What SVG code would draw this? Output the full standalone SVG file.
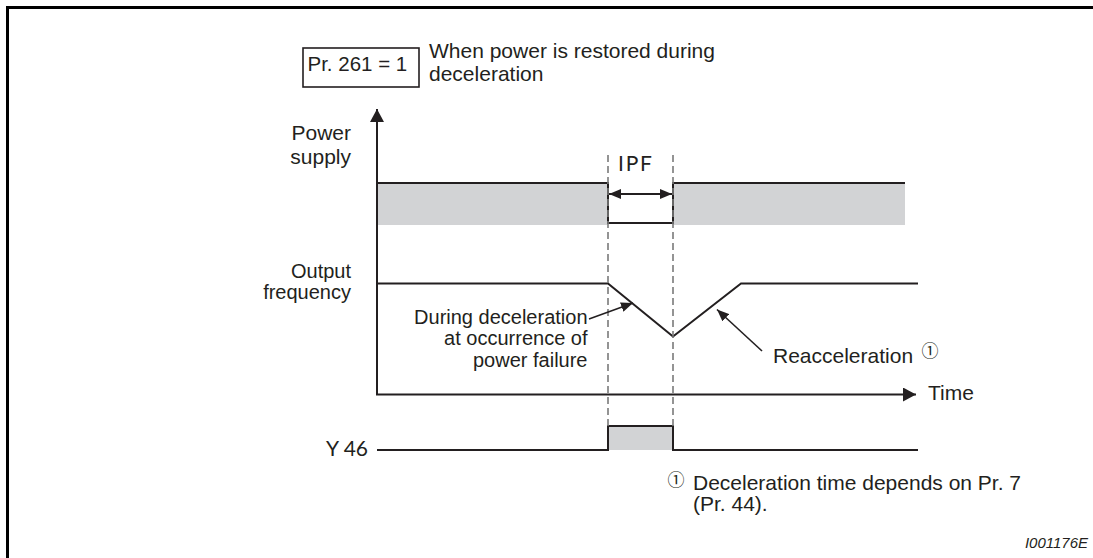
<svg xmlns="http://www.w3.org/2000/svg" width="1093" height="558" viewBox="0 0 1093 558">
<style>
.t{font-family:"Liberation Sans",Arial,sans-serif;font-size:21px;fill:#231f20}
.s{font-size:20px}
.e{text-anchor:end}
.g{font-family:Lato,"DejaVu Sans",sans-serif;font-weight:400;font-size:21px;fill:#231f20}
.c{font-family:"Noto Sans CJK JP","DejaVu Sans",sans-serif;font-size:17px;fill:#231f20}
.ln{fill:none;stroke:#231f20;stroke-width:2}
.dash{fill:none;stroke:#7a7a7a;stroke-width:1.6;stroke-dasharray:7 4}
.shade{fill:#d2d3d5;stroke:none}
</style>
<defs>
<marker id="ah" viewBox="0 0 12 10" refX="12" refY="5" markerWidth="12" markerHeight="10" markerUnits="userSpaceOnUse" orient="auto-start-reverse">
<path d="M0,0 L12,5 L0,10 Z" fill="#231f20"/>
</marker>
<marker id="big" viewBox="0 0 13 14" refX="13" refY="7" markerWidth="13" markerHeight="14" markerUnits="userSpaceOnUse" orient="auto">
<path d="M0,0 L13,7 L0,14 Z" fill="#231f20"/>
</marker>
</defs>
<rect width="1093" height="558" fill="#fff"/>
<g id="frame">
<path d="M7.5,558 V7.5 H1093" fill="none" stroke="#000" stroke-width="3"/>
</g>
<g id="title">
<rect x="303" y="48" width="116" height="39" fill="none" stroke="#231f20" stroke-width="1.6"/>
<text class="t" x="307.5" y="71" style="font-size:20.5px">Pr. 261 = 1</text>
<text class="t" x="429" y="58"><tspan x="429" y="58">When power is restored during</tspan><tspan x="429" y="80.5">deceleration</tspan></text>
</g>
<g id="labels">
<text class="t e"><tspan x="351" y="139.5">Power</tspan><tspan x="351" y="163.5">supply</tspan></text>
<text class="t s e"><tspan x="351" y="277.5">Output</tspan><tspan x="351" y="299">frequency</tspan></text>
<text class="t s e"><tspan x="587.5" y="323.5">During deceleration</tspan><tspan x="587.5" y="345">at occurrence of</tspan><tspan x="587.5" y="366.5">power failure</tspan></text>
<text class="t" x="773" y="363">Reacceleration</text>
<text class="c" x="921.5" y="357">①</text>
<text class="t" x="928" y="400">Time</text>
<text class="g" x="326" y="456" textLength="42" lengthAdjust="spacingAndGlyphs">Y 46</text>
<text class="g" x="618" y="171" textLength="34" lengthAdjust="spacing">IPF</text>
</g>
<g id="footnote">
<text class="c" x="667.5" y="486">①</text>
<text class="t"><tspan x="693" y="490">Deceleration time depends on Pr. 7</tspan><tspan x="693" y="511">(Pr. 44).</tspan></text>
<text class="t" x="1088" y="548" style="font-size:15px;font-style:italic;text-anchor:end">I001176E</text>
</g>
<g id="signals">
<rect class="shade" x="377" y="183" width="231" height="42"/>
<rect class="shade" x="673" y="183" width="232" height="42"/>
<rect class="shade" x="608" y="426" width="65" height="24"/>
<path class="ln" d="M377,183 H608 V223 H673 V183 H905"/>
<path class="ln" d="M377,283.5 H608 L673,336.5 L741,283.5 H918"/>
<path class="ln" d="M377,450 H608 V426 H673 V450 H918"/>
<line class="dash" x1="608" y1="155" x2="608" y2="426"/>
<line class="dash" x1="673" y1="155" x2="673" y2="426"/>
</g>
<g id="connectors">
<line class="ln" x1="377" y1="394.5" x2="377" y2="109" marker-end="url(#big)"/>
<line class="ln" x1="376" y1="394.5" x2="916" y2="394.5" marker-end="url(#big)"/>
<line x1="609" y1="194" x2="672" y2="194" stroke="#231f20" stroke-width="2" marker-start="url(#ah)" marker-end="url(#ah)"/>
<line x1="589" y1="319" x2="633" y2="303" stroke="#231f20" stroke-width="1.6" marker-end="url(#ah)"/>
<line x1="762" y1="351" x2="717" y2="309.5" stroke="#231f20" stroke-width="1.6" marker-end="url(#ah)"/>
</g>
</svg>
